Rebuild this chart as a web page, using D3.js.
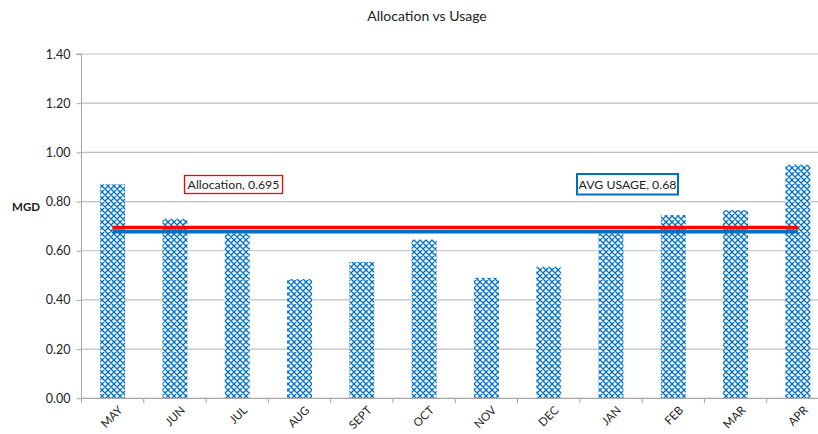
<!DOCTYPE html>
<html><head><meta charset="utf-8">
<script src="https://cdn.jsdelivr.net/npm/d3@7"></script>
<style>body{margin:0;background:#fff;} svg{display:block;font-family:Lato,"Liberation Sans",sans-serif;}</style>
</head><body>
<svg id="c" width="818" height="434"></svg>
<script>
const months = ["MAY","JUN","JUL","AUG","SEPT","OCT","NOV","DEC","JAN","FEB","MAR","APR"];
const usage = [0.87,0.73,0.67,0.485,0.555,0.645,0.49,0.535,0.67,0.745,0.765,0.95];
const allocation = 0.695;
const avgUsage = 0.68;
const yTicks = [0,0.2,0.4,0.6,0.8,1.0,1.2,1.4];
const title = "Allocation vs Usage";
const yLabel = "MGD";

(function(){
const svg = d3.select("#c");
const pL = 81.5, pR = 829, pT = 54, pB = 398.3;
const x = d3.scaleBand().domain(months).range([pL, pR]).paddingInner(0.6).paddingOuter(0.3);
const xb = d3.scaleBand().domain(months).range([pL, pR]);
const y = d3.scaleLinear().domain([0,1.4]).range([pB, pT]);

const defs = svg.append("defs");
const pat = defs.append("pattern").attr("id","chk").attr("patternUnits","userSpaceOnUse")
  .attr("width",6).attr("height",6);
pat.append("rect").attr("width",6).attr("height",6).attr("fill","#fff");
pat.append("path").attr("d","M0,0L6,6M6,0L0,6M-1,5L1,7M5,-1L7,1M-1,1L1,-1M5,7L7,5")
  .attr("stroke","#0070C0").attr("stroke-width",1.3);

// gridlines
svg.append("g").selectAll("line").data(yTicks.filter(d=>d>0)).join("line")
  .attr("x1",pL).attr("x2",818).attr("y1",d=>y(d)).attr("y2",d=>y(d))
  .attr("stroke","#bfbfbf").attr("stroke-width",1.2);

// bars
svg.append("g").selectAll("rect").data(usage).join("rect")
  .attr("x",(d,i)=>x(months[i])).attr("width",x.bandwidth())
  .attr("y",d=>y(d)).attr("height",d=>pB-y(d))
  .attr("fill","url(#chk)");

// axes
const ya = d3.axisLeft(y).tickValues(yTicks).tickFormat(d3.format(".2f")).tickSize(5).tickPadding(6);
const yg = svg.append("g").attr("transform",`translate(${pL},0)`).call(ya);
yg.select(".domain").attr("stroke","#a6a6a6").attr("d",`M-5,${pT}H0V${pB}`);
yg.selectAll(".tick line").attr("stroke","#a6a6a6");
yg.selectAll("text").attr("font-size",12.5).attr("fill","#222").attr("font-family","Lato,sans-serif");

svg.append("line").attr("x1",pL).attr("x2",818).attr("y1",pB).attr("y2",pB)
  .attr("stroke","#a6a6a6").attr("stroke-width",1.2);
svg.append("g").selectAll("line").data(months).join("line")
  .attr("x1",d=>xb(d)).attr("x2",d=>xb(d)).attr("y1",pB).attr("y2",pB+5)
  .attr("stroke","#a6a6a6");
svg.append("g").selectAll("text").data(months).join("text")
  .attr("transform",d=>`translate(${x(d)+x.bandwidth()/2+5},${pB+7}) rotate(-45)`)
  .attr("text-anchor","end").attr("dy","0.7em").attr("font-size",11.5).attr("fill","#222")
  .text(d=>d);

// lines
const lx1 = x(months[0])+x.bandwidth()/2, lx2 = x(months[11])+x.bandwidth()/2;
svg.append("line").attr("x1",lx1).attr("x2",lx2).attr("y1",y(allocation)).attr("y2",y(allocation))
  .attr("stroke","#ff0000").attr("stroke-width",3.5);
svg.append("line").attr("x1",lx1).attr("x2",lx2).attr("y1",y(avgUsage)+0.8).attr("y2",y(avgUsage)+0.8)
  .attr("stroke","#0070C0").attr("stroke-width",3.5);

// labels
function box(x0,y0,w,h,col,sw,txt){
  svg.append("rect").attr("x",x0).attr("y",y0).attr("width",w).attr("height",h)
    .attr("fill","#fff").attr("stroke",col).attr("stroke-width",sw);
  svg.append("text").attr("x",x0+w/2).attr("y",y0+h/2).attr("dy","0.35em")
    .attr("text-anchor","middle").attr("font-size",12.3).attr("fill","#222").text(txt);
}
box(184.5,175.5,98,18,"#ff0000",1.3,"Allocation, "+allocation);
box(577,174,101,20.5,"#0070C0",2,"AVG USAGE, "+avgUsage);

svg.append("text").attr("x",427).attr("y",21).attr("text-anchor","middle")
  .attr("font-size",14).attr("fill","#222").text(title);
svg.append("text").attr("x",26).attr("y",211).attr("text-anchor","middle")
  .attr("font-size",11.5).attr("font-weight","bold").attr("fill","#222").text(yLabel);
})();
</script>
</body></html>
